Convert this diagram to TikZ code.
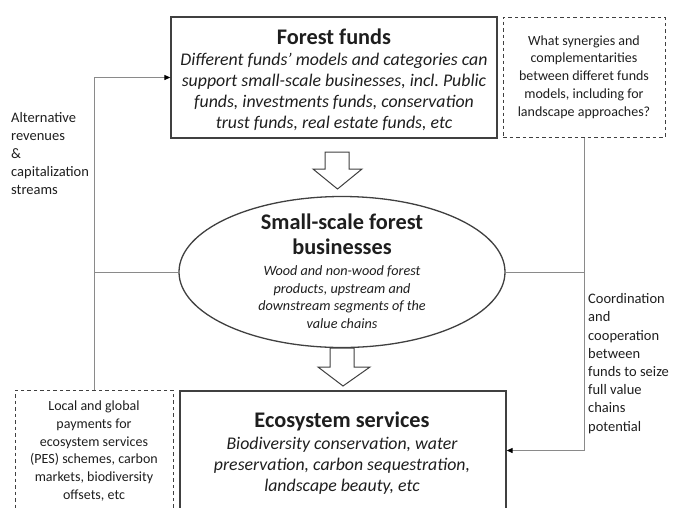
\documentclass[tikz,border=0pt]{standalone}
\usepackage{fontspec}
\setmainfont{Carlito}
\frenchspacing
\usetikzlibrary{arrows.meta,shapes.geometric}
\definecolor{boxc}{HTML}{404040}
\definecolor{linec}{HTML}{8A8A8A}
\definecolor{txt}{HTML}{1E1E1E}
\tikzset{
  box/.style={draw=boxc, line width=1.3pt, rectangle, inner sep=0pt},
  dbox/.style={draw=boxc, line width=1pt, dash pattern=on 3.5pt off 3pt, rectangle, inner sep=0pt, align=center, text=txt, font=\fontsize{14}{17.8}\selectfont},
  ttl/.style={font=\fontsize{22.3}{24}\selectfont\bfseries, text=txt, inner sep=0pt},
  bodyt/.style={font=\fontsize{17.8}{20.8}\selectfont\itshape, text=txt, align=center, inner sep=0pt},
  ebody/.style={font=\fontsize{14.2}{17.7}\selectfont\itshape, text=txt, align=center, inner sep=0pt},
  sidel/.style={font=\fontsize{14.5}{18.2}\selectfont, text=txt, align=left, inner sep=0pt, anchor=west},
  conn/.style={draw=linec, line width=1pt},
  tipped/.style={-{Triangle[length=6pt,width=5pt,color=black]}},
  blockarrow/.style={draw=boxc, line width=1pt, fill=white, line join=miter}
}
\begin{document}
\begin{tikzpicture}[x=1pt,y=-1pt]
\useasboundingbox (0,0) rectangle (674,507);
% Forest funds box
\node[box, minimum width=326pt, minimum height=121pt] (ff) at (334,77.5) {};
\node[ttl] (fft) at (334,37) {Forest funds};
\node[bodyt] (ffb) at (334,92) {Different funds’ models and categories can\\support small-scale businesses, incl. Public\\funds, investments funds, conservation\\trust funds, real estate funds, etc};
% right dashed box
\node[dbox, minimum width=162pt, minimum height=120pt] (rd) at (584,77) {What synergies and\\complementarities\\between differet funds\\models, including for\\landscape approaches?};
% ellipse
\node[ellipse, draw=boxc, line width=1.3pt, minimum width=326pt, minimum height=151pt, inner sep=0pt] (sb) at (342,272) {};
\node[ttl] (sbt1) at (342,222) {Small-scale forest};
\node[ttl] (sbt2) at (342,247) {businesses};
\node[ebody] (sbb) at (342,297) {Wood and non-wood forest\\products, upstream and\\downstream segments of the\\value chains};
% ecosystem box
\node[box, minimum width=326pt, minimum height=119pt] (es) at (343,450.5) {};
\node[ttl] (est) at (342,421) {Ecosystem services};
\node[bodyt] (esb) at (342,466) {Biodiversity conservation, water\\preservation, carbon sequestration,\\landscape beauty, etc};
% left dashed box
\node[dbox, minimum width=158pt, minimum height=122pt] (ld) at (94,451) {Local and global\\payments for\\ecosystem services\\(PES) schemes, carbon\\markets, biodiversity\\offsets, etc};
% side labels
\node[sidel] (ll) at (11,153.5) {Alternative\\revenues\\\&\\capitalization\\streams};
\node[sidel] (rl) at (588,363.5) {Coordination\\and\\cooperation\\between\\funds to seize\\full value\\chains\\potential};
% block arrows
\draw[blockarrow] (325,152) -- (349,152) -- (349,169) -- (362,169) -- (337.5,189) -- (313,169) -- (325,169) -- cycle;
\draw[blockarrow] (330,348) -- (354,348) -- (354,367) -- (370,367) -- (343,386) -- (318,367) -- (330,367) -- cycle;
% connectors
\draw[conn, tipped] (ld.north) |- (ff.west);
\draw[conn] (sb.west) -- (sb.west -| ld.north);
\draw[conn, tipped] (rd.south) |- (es.east);
\draw[conn] (sb.east) -- (sb.east -| rd.south);
\end{tikzpicture}
\end{document}
